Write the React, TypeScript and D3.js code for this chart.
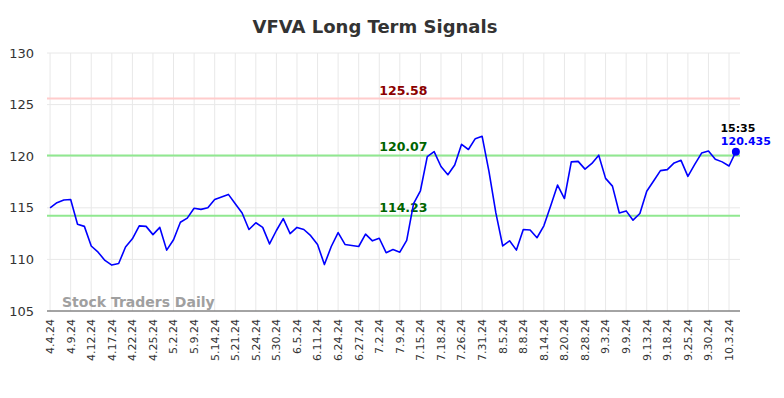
import React, { useEffect, useRef } from 'react';
import * as d3 from 'd3';

const title = 'VFVA Long Term Signals';

const dateLabels = [
  '4.4.24', '4.9.24', '4.12.24', '4.17.24', '4.22.24', '4.25.24', '5.2.24', '5.9.24',
  '5.14.24', '5.21.24', '5.24.24', '5.30.24', '6.5.24', '6.11.24', '6.24.24', '6.27.24',
  '7.2.24', '7.9.24', '7.15.24', '7.18.24', '7.26.24', '7.31.24', '8.5.24', '8.8.24',
  '8.14.24', '8.20.24', '8.28.24', '9.3.24', '9.9.24', '9.13.24', '9.18.24', '9.25.24',
  '9.30.24', '10.3.24',
];

// one label every 3 points
const labelStep = 3;

const prices = [
  115.0, 115.5, 115.75, 115.8, 113.4, 113.2, 111.3, 110.7, 109.9, 109.45,
  109.6, 111.2, 112.0, 113.25, 113.2, 112.4, 113.1, 110.9, 111.9, 113.6,
  114.0, 114.95, 114.85, 115.0, 115.8, 116.05, 116.3, 115.4, 114.5, 112.9,
  113.55, 113.1, 111.5, 112.8, 113.95, 112.5, 113.1, 112.9, 112.3, 111.45,
  109.5, 111.25, 112.6, 111.45, 111.35, 111.25, 112.45, 111.8, 112.05, 110.65,
  110.95, 110.7, 111.85, 115.4, 116.65, 119.95, 120.45, 119.0, 118.2, 119.15,
  121.15, 120.65, 121.7, 121.93, 118.5, 114.5, 111.3, 111.8, 110.9, 112.9,
  112.85, 112.1, 113.25, 115.2, 117.2, 115.9, 119.45, 119.5, 118.75, 119.3,
  120.1, 117.85, 117.1, 114.5, 114.7, 113.8, 114.45, 116.6, 117.6, 118.6,
  118.7, 119.35, 119.6, 118.05, 119.2, 120.3, 120.5, 119.7, 119.45, 119.05,
  120.435,
];

const yTicks = [105, 110, 115, 120, 125, 130];

const resistance = [125.58];
const support = [120.07, 114.23];

const lastTime = '15:35';
const lastLabel = '120.435';

const W = 784;
const H = 398;

export default function App() {
  const svgRef = useRef<SVGSVGElement | null>(null);

  useEffect(() => {
    if (!svgRef.current) return;
    const svg = d3.select(svgRef.current);
    svg.selectAll('*').remove();

    const margin = { top: 53, right: 44, bottom: 87, left: 47 };
    const chartW = W - margin.left - margin.right;
    const chartH = H - margin.top - margin.bottom;
    const font = 'DejaVu Sans, sans-serif';

    const g = svg.append('g').attr('transform', `translate(${margin.left},${margin.top})`);

    const x = d3.scaleLinear().domain([-0.45, prices.length - 1 + 0.6]).range([0, chartW]);
    const y = d3.scaleLinear().domain([105, 130]).range([chartH, 0]);

    // grid
    g.append('g')
      .selectAll('line')
      .data(dateLabels)
      .enter()
      .append('line')
      .attr('x1', (_, i) => x(i * labelStep))
      .attr('x2', (_, i) => x(i * labelStep))
      .attr('y1', 0)
      .attr('y2', chartH)
      .attr('stroke', '#e8e8e8')
      .attr('stroke-width', 1);

    g.append('g')
      .selectAll('line')
      .data(yTicks)
      .enter()
      .append('line')
      .attr('x1', 0)
      .attr('x2', chartW)
      .attr('y1', (d) => y(d))
      .attr('y2', (d) => y(d))
      .attr('stroke', '#e8e8e8')
      .attr('stroke-width', 1);

    // y labels
    g.append('g')
      .selectAll('text')
      .data(yTicks)
      .enter()
      .append('text')
      .attr('x', -13)
      .attr('y', (d) => y(d))
      .attr('dy', '0.35em')
      .attr('text-anchor', 'end')
      .attr('fill', '#333')
      .style('font-family', font)
      .style('font-size', '13px')
      .text((d) => d);

    // x labels
    g.append('g')
      .selectAll('text')
      .data(dateLabels)
      .enter()
      .append('text')
      .attr('transform', (_, i) => `translate(${x(i * labelStep)},${chartH + 8}) rotate(-90)`)
      .attr('dy', '0.35em')
      .attr('text-anchor', 'end')
      .attr('fill', '#333')
      .style('font-family', font)
      .style('font-size', '11px')
      .text((d) => d);

    // bottom axis line
    g.append('line')
      .attr('x1', 0)
      .attr('x2', chartW)
      .attr('y1', chartH)
      .attr('y2', chartH)
      .attr('stroke', '#555')
      .attr('stroke-width', 1.2);

    // level lines
    const levels = [
      ...resistance.map((v) => ({ v, line: '#ffcccc', text: '#8b0000' })),
      ...support.map((v) => ({ v, line: '#90e890', text: '#006400' })),
    ];
    g.append('g')
      .selectAll('line')
      .data(levels)
      .enter()
      .append('line')
      .attr('x1', 0)
      .attr('x2', chartW)
      .attr('y1', (d) => y(d.v))
      .attr('y2', (d) => y(d.v))
      .attr('stroke', (d) => d.line)
      .attr('stroke-width', 2);

    g.append('g')
      .selectAll('text')
      .data(levels)
      .enter()
      .append('text')
      .attr('x', x(48))
      .attr('y', (d) => y(d.v) - 4)
      .attr('fill', (d) => d.text)
      .style('font-family', font)
      .style('font-size', '12.5px')
      .style('font-weight', 'bold')
      .text((d) => d.v.toFixed(2));

    // watermark
    g.append('text')
      .attr('x', 15)
      .attr('y', chartH - 4)
      .attr('fill', '#a0a0a0')
      .style('font-family', font)
      .style('font-size', '14px')
      .style('font-weight', 'bold')
      .text('Stock Traders Daily');

    // price line
    const line = d3
      .line<number>()
      .x((_, i) => x(i))
      .y((d) => y(d));

    g.append('path')
      .datum(prices)
      .attr('fill', 'none')
      .attr('stroke', '#0000ff')
      .attr('stroke-width', 1.6)
      .attr('stroke-linejoin', 'round')
      .attr('d', line);

    const lastI = prices.length - 1;
    const lastV = prices[lastI];
    g.append('circle')
      .attr('cx', x(lastI))
      .attr('cy', y(lastV))
      .attr('r', 4)
      .attr('fill', '#0000ff');

    g.append('text')
      .attr('x', x(lastI) + 2)
      .attr('y', y(lastV) - 20)
      .attr('text-anchor', 'middle')
      .attr('fill', '#000')
      .style('font-family', font)
      .style('font-size', '11px')
      .style('font-weight', 'bold')
      .text(lastTime);

    g.append('text')
      .attr('x', x(lastI) + 10)
      .attr('y', y(lastV) - 7)
      .attr('text-anchor', 'middle')
      .attr('fill', '#0000ff')
      .style('font-family', font)
      .style('font-size', '11px')
      .style('font-weight', 'bold')
      .text(lastLabel);

    // title
    svg.append('text')
      .attr('x', 375)
      .attr('y', 33)
      .attr('text-anchor', 'middle')
      .attr('fill', '#333')
      .style('font-family', font)
      .style('font-size', '18px')
      .style('font-weight', 'bold')
      .text(title);
  }, []);

  return (
    <svg
      ref={svgRef}
      width={W}
      height={H}
      style={{ position: 'absolute', left: 0, top: 0, background: '#fff' }}
    />
  );
}
